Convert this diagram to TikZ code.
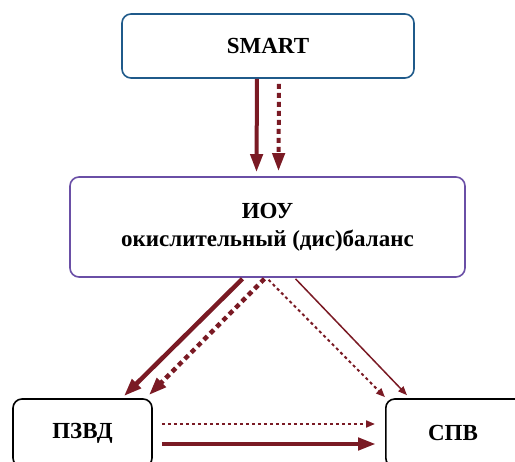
\documentclass[tikz,border=0pt]{standalone}
\usepackage{fontspec}
\setmainfont{Liberation Serif}
\usepackage{tikz}
\usetikzlibrary{
  arrows.meta,
  positioning,
  calc
}
\definecolor{oxSmart}{HTML}{1F5A8A}
\definecolor{oxIou}{HTML}{6A4FA6}
\definecolor{oxArrow}{HTML}{7A1A24}
\tikzset{
  oxnode/.style={
    draw, rounded corners=9pt, line width=1.6pt, fill=white,
    font=\bfseries\fontsize{23}{26}\selectfont, align=center, inner sep=0pt
  },
  smartbox/.style={oxnode, draw=oxSmart, minimum width=292pt, minimum height=64pt},
  ioubox/.style={oxnode, draw=oxIou, minimum width=395pt, minimum height=100pt},
  endbox/.style={oxnode, draw=black, minimum width=139pt, minimum height=68pt},
  heavy/.style={-{Triangle[length=18pt, width=12pt]}, line width=4.5pt, oxArrow},
  heavydot/.style={heavy, dash pattern=on 5pt off 4pt},
  light/.style={-{Triangle[length=9pt, width=7pt]}, line width=1.5pt, oxArrow},
  lightdot/.style={light, line width=2pt, dash pattern=on 3pt off 3pt}
}
\begin{document}
\begin{tikzpicture}[x=1pt, y=-1pt]
  \useasboundingbox (0,0) rectangle (515,462);
  \clip (0,0) rectangle (515,462);
  \node[smartbox] (smart) at (268,46) {SMART};
  \node[ioubox] (iou) at (267.5,227) {ИОУ\\[2pt]окислительный (дис)баланс};
  \node[endbox] (pzvd) at (82.5,433) {ПЗВД};
  \node[endbox, anchor=west] (spv) at (385,433) {};
  \node at (453,433) [font=\bfseries\fontsize{23}{26}\selectfont] (spvtext) {СПВ};
  % SMART -> ИОУ
  \draw[heavy, line width=4pt] ([xshift=-11pt]smart.south) -- ([xshift=-11pt,yshift=4pt]iou.north);
  \draw[heavydot, line width=4pt] ([xshift=11pt,yshift=-5pt]smart.south) -- ([xshift=11pt,yshift=5pt]iou.north);
  % ИОУ -> ПЗВД, СПВ
  \draw[heavy] ([xshift=-25pt,yshift=-1pt]iou.south) -- ([xshift=-29pt,yshift=2pt]pzvd.north east);
  \draw[heavydot] ([xshift=-3pt,yshift=-1pt]iou.south) -- ([xshift=-4pt,yshift=3pt]pzvd.north east);
  \draw[lightdot] ([xshift=1pt,yshift=-2pt]iou.south) -- ([yshift=1pt]spv.north west);
  \draw[light] ([xshift=28pt,yshift=-1pt]iou.south) -- ([xshift=22pt,yshift=3pt]spv.north west);
  % ПЗВД -> СПВ
  \draw[lightdot] ([xshift=9pt,yshift=9pt]pzvd.east) -- ([xshift=-10pt,yshift=9pt]spv.west);
  \draw[heavy] ([xshift=9pt,yshift=-11pt]pzvd.east) -- ([xshift=-9pt,yshift=-11pt]spv.west);
\end{tikzpicture}
\end{document}
